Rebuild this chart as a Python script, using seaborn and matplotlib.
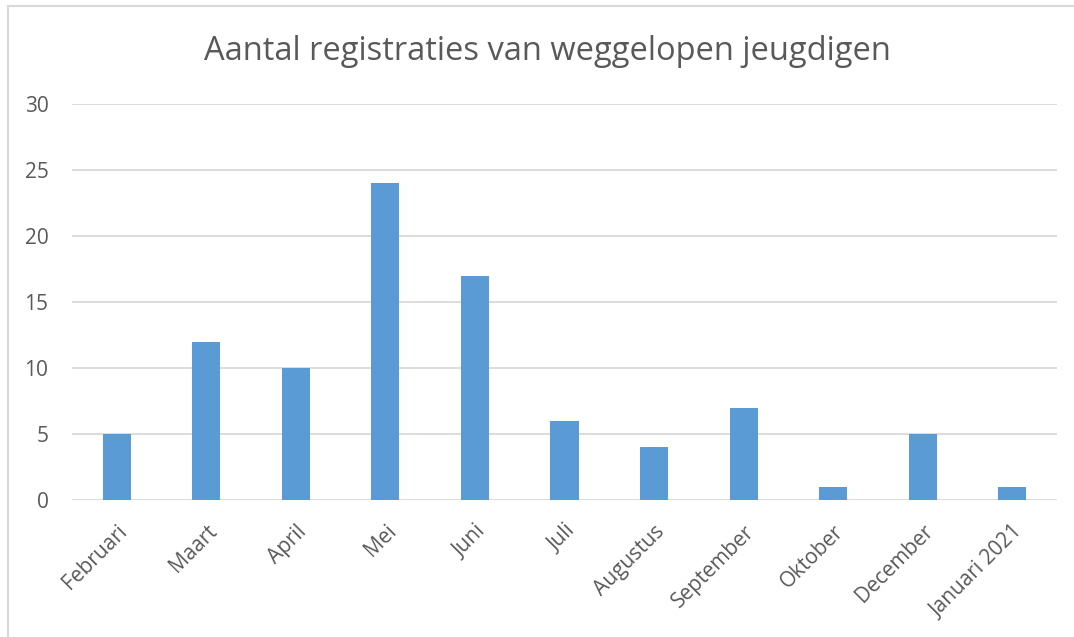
import matplotlib
matplotlib.use('Agg')
import matplotlib.pyplot as plt
import seaborn as sns
import pandas as pd
from matplotlib.patches import Rectangle

# Data
months = ['Februari', 'Maart', 'April', 'Mei', 'Juni', 'Juli', 'Augustus',
          'September', 'Oktober', 'December', 'Januari 2021']
counts = [5, 12, 10, 24, 17, 6, 4, 7, 1, 5, 1]

df = pd.DataFrame({'maand': months, 'aantal': counts})

sns.set_style('white')
plt.rcParams['font.family'] = ['Open Sans', 'DejaVu Sans']

text_col = '#595959'
grid_col = '#D9D9D9'

fig = plt.figure(figsize=(10.74, 6.37), dpi=100)
ax = fig.add_axes([72 / 1074, 137 / 637, 985 / 1074, 396 / 637])

sns.barplot(data=df, x='maand', y='aantal', color='#5B9BD5', saturation=1,
            width=0.313, linewidth=0, ax=ax, zorder=3)

ax.set_ylim(0, 30)
ax.set_xlim(-0.5, len(months) - 0.5)
ax.set_yticks(range(0, 31, 5))
ax.yaxis.grid(True, color=grid_col, linewidth=1.3, zorder=0)
ax.set_axisbelow(True)
for s in ax.spines.values():
    s.set_visible(False)
ax.set_xlabel('')
ax.set_ylabel('')
ax.tick_params(axis='y', length=0, pad=17, labelsize=15, labelcolor=text_col)
ax.tick_params(axis='x', length=0, pad=15, labelsize=15, labelcolor=text_col)
plt.setp(ax.get_xticklabels(), rotation=45, ha='right', rotation_mode='anchor')

fig.text(547 / 1074, 1 - 52 / 637, 'Aantal registraties van weggelopen jeugdigen',
         ha='center', va='center', fontsize=23.5, color=text_col)

# chart frame
fig.patches.append(Rectangle((8 / 1074, -0.05), 1.1, 1 - 6 / 637 + 0.05,
                             transform=fig.transFigure, fill=False,
                             edgecolor=grid_col, linewidth=1.5))

fig.savefig('out.png', dpi=100)
